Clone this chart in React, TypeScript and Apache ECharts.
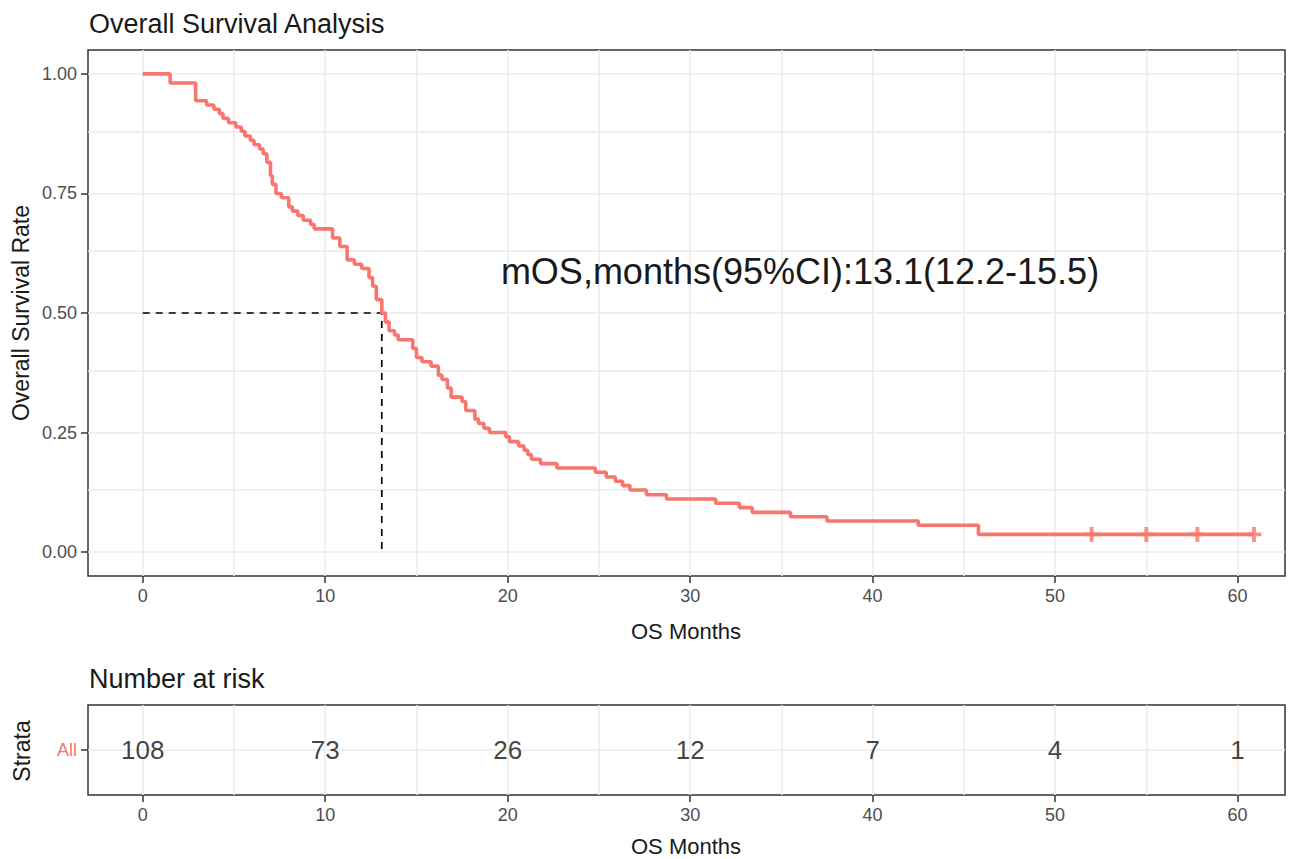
import React, { useEffect, useRef } from "react";
import * as echarts from "echarts";

// Kaplan-Meier step points (time in months, survival after the drop)
const times = [0, 1.5, 2.9, 3.5, 3.9, 4.2, 4.4, 4.7, 5.1, 5.4, 5.6, 5.9, 6.1, 6.4, 6.6, 6.8, 7.0, 7.1, 7.3, 7.6, 8.0, 8.2, 8.5, 8.8, 9.2, 9.4, 10.4, 10.8, 11.2, 11.6, 12.0, 12.4, 12.6, 12.8, 13.1, 13.3, 13.5, 13.8, 14.0, 14.8, 15.0, 15.3, 15.8, 16.2, 16.4, 16.7, 16.9, 17.5, 17.7, 18.2, 18.4, 18.7, 19.0, 19.9, 20.1, 20.6, 20.9, 21.1, 21.3, 21.8, 22.7, 24.8, 25.4, 25.9, 26.3, 26.7, 27.6, 28.7, 31.4, 32.7, 33.4, 35.5, 37.5, 42.5, 45.8, 60.9];
const survival = [1.0, 0.981, 0.944, 0.935, 0.926, 0.917, 0.907, 0.898, 0.889, 0.88, 0.87, 0.861, 0.852, 0.843, 0.833, 0.815, 0.787, 0.769, 0.75, 0.741, 0.722, 0.713, 0.704, 0.694, 0.685, 0.676, 0.657, 0.639, 0.611, 0.602, 0.593, 0.574, 0.556, 0.528, 0.5, 0.481, 0.463, 0.454, 0.444, 0.426, 0.407, 0.398, 0.389, 0.37, 0.361, 0.343, 0.324, 0.315, 0.296, 0.278, 0.269, 0.259, 0.25, 0.241, 0.231, 0.222, 0.213, 0.204, 0.194, 0.185, 0.176, 0.167, 0.157, 0.148, 0.139, 0.13, 0.12, 0.111, 0.102, 0.093, 0.083, 0.074, 0.065, 0.056, 0.037, 0.037];

const censorTimes = [52.0, 55.0, 57.8, 60.9];
const censorSurv = [0.037, 0.037, 0.037, 0.037];

const medianTime = 13.1;
const medianSurv = 0.5;

const riskTimes = [0, 10, 20, 30, 40, 50, 60];
const riskCounts = [108, 73, 26, 12, 7, 4, 1];
const strata = ["All"];

const xTicks = [0, 10, 20, 30, 40, 50, 60];
const xMinor = [5, 15, 25, 35, 45, 55];
const yTicks = [0, 0.25, 0.5, 0.75, 1.0];
const yMinor = [0.125, 0.375, 0.625, 0.875];

const annotation = "mOS,months(95%CI):13.1(12.2-15.5)";

const FONT = "'Liberation Sans', Arial, sans-serif";
const RED = "#F8766D";
const GRID_COLOR = "#EBEBEB";

export default function App() {
  const ref = useRef<HTMLDivElement>(null);

  useEffect(() => {
    if (!ref.current) return;
    const chart = echarts.init(ref.current, null, { renderer: "svg" });

    const xAxisBase = (gridIndex: number) => ({
      gridIndex,
      type: "value",
      min: -3,
      max: 62.6,
      axisLine: { show: false, onZero: false },
      splitLine: { show: false },
      axisTick: {
        show: true,
        length: 7,
        customValues: xTicks,
        lineStyle: { color: "#333333", width: 1.5 },
      },
      axisLabel: {
        customValues: xTicks,
        margin: 11,
        fontSize: 18,
        color: "#4D4D4D",
        fontFamily: FONT,
      },
    });

    const gridLineStyle = { color: GRID_COLOR, width: 1.5, type: "solid" };

    const option: any = {
      animation: false,
      backgroundColor: "#ffffff",
      textStyle: { fontFamily: FONT },
      grid: [
        { left: 88, top: 50, width: 1197, height: 526, show: true, borderColor: "#333333", borderWidth: 1.5, backgroundColor: "transparent" },
        { left: 88, top: 705, width: 1197, height: 90, show: true, borderColor: "#333333", borderWidth: 1.5, backgroundColor: "transparent" },
      ],
      xAxis: [xAxisBase(0), xAxisBase(1)],
      yAxis: [
        {
          gridIndex: 0,
          type: "value",
          min: -0.05,
          max: 1.05,
          axisLine: { show: false, onZero: false },
          splitLine: { show: false },
          axisTick: {
            show: true,
            length: 7,
            customValues: yTicks,
            lineStyle: { color: "#333333", width: 1.5 },
          },
          axisLabel: {
            customValues: yTicks,
            margin: 11,
            fontSize: 18,
            color: "#4D4D4D",
            fontFamily: FONT,
            formatter: (v: number) => v.toFixed(2),
          },
        },
        {
          gridIndex: 1,
          type: "category",
          data: strata,
          axisLine: { show: false, onZero: false },
          splitLine: { show: false },
          axisTick: {
            show: true,
            length: 7,
            alignWithLabel: true,
            lineStyle: { color: "#333333", width: 1.5 },
          },
          axisLabel: {
            margin: 11,
            fontSize: 18,
            color: RED,
            fontFamily: FONT,
          },
        },
      ],
      series: [
        {
          type: "line",
          xAxisIndex: 0,
          yAxisIndex: 0,
          data: [],
          z: 1,
          silent: true,
          markLine: {
            z: 1,
            silent: true,
            symbol: ["none", "none"],
            label: { show: false },
            lineStyle: gridLineStyle,
            data: [
              ...xTicks.map((v) => ({ xAxis: v })),
              ...xMinor.map((v) => ({ xAxis: v })),
              ...yTicks.map((v) => ({ yAxis: v })),
              ...yMinor.map((v) => ({ yAxis: v })),
            ],
          },
        },
        {
          type: "line",
          xAxisIndex: 1,
          yAxisIndex: 1,
          data: [],
          z: 1,
          silent: true,
          markLine: {
            z: 1,
            silent: true,
            symbol: ["none", "none"],
            label: { show: false },
            lineStyle: gridLineStyle,
            data: [
              ...xTicks.map((v) => ({ xAxis: v })),
              ...xMinor.map((v) => ({ xAxis: v })),
              ...strata.map((s) => ({ yAxis: s })),
            ],
          },
        },
        {
          type: "line",
          xAxisIndex: 0,
          yAxisIndex: 0,
          z: 3,
          showSymbol: false,
          data: [
            [0, medianSurv],
            [medianTime, medianSurv],
            [medianTime, 0],
          ],
          lineStyle: { color: "#000000", width: 1.7, type: [7, 6] },
        },
        {
          type: "line",
          xAxisIndex: 0,
          yAxisIndex: 0,
          z: 4,
          step: "end",
          showSymbol: false,
          data: times.map((t, i) => [t, survival[i]]),
          lineStyle: { color: RED, width: 3.6 },
        },
        {
          type: "scatter",
          xAxisIndex: 0,
          yAxisIndex: 0,
          z: 5,
          symbol: "path://M3.7,0 H6.3 V3.7 H10 V6.3 H6.3 V10 H3.7 V6.3 H0 V3.7 H3.7 Z",
          symbolSize: 15,
          itemStyle: { color: RED },
          data: censorTimes.map((t, i) => [t, censorSurv[i]]),
        },
        {
          type: "scatter",
          xAxisIndex: 1,
          yAxisIndex: 1,
          z: 5,
          symbolSize: 1,
          itemStyle: { color: "transparent" },
          data: riskTimes.map((t, i) => [t, 0, riskCounts[i]]),
          label: {
            show: true,
            position: "inside",
            formatter: (p: any) => String(p.data[2]),
            fontSize: 26,
            color: "#111111",
            fontFamily: FONT,
          },
        },
      ],
      graphic: {
        z: 100,
        elements: [
          {
            type: "text",
            z: 100,
            left: 89,
            top: 10,
            style: { text: "Overall Survival Analysis", fontSize: 27, fill: "#1a1a1a", fontFamily: FONT },
          },
          {
            type: "text",
            z: 100,
            x: 21,
            y: 313,
            rotation: Math.PI / 2,
            style: { text: "Overall Survival Rate", fontSize: 23, fill: "#1a1a1a", fontFamily: FONT, align: "center", verticalAlign: "middle" },
          },
          {
            type: "text",
            z: 100,
            x: 686,
            y: 631,
            style: { text: "OS Months", fontSize: 22, fill: "#1a1a1a", fontFamily: FONT, align: "center", verticalAlign: "middle" },
          },
          {
            type: "text",
            z: 100,
            x: 800,
            y: 271,
            style: { text: annotation, fontSize: 36, fill: "#1a1a1a", fontFamily: FONT, align: "center", verticalAlign: "middle" },
          },
          {
            type: "text",
            z: 100,
            left: 89,
            top: 665,
            style: { text: "Number at risk", fontSize: 27, fill: "#1a1a1a", fontFamily: FONT },
          },
          {
            type: "text",
            z: 100,
            x: 22,
            y: 751,
            rotation: Math.PI / 2,
            style: { text: "Strata", fontSize: 23, fill: "#1a1a1a", fontFamily: FONT, align: "center", verticalAlign: "middle" },
          },
          {
            type: "text",
            z: 100,
            x: 686,
            y: 846,
            style: { text: "OS Months", fontSize: 22, fill: "#1a1a1a", fontFamily: FONT, align: "center", verticalAlign: "middle" },
          },
        ],
      },
    };

    chart.setOption(option);
    return () => {
      chart.dispose();
    };
  }, []);

  return (
    <div
      ref={ref}
      style={{ position: "fixed", left: 0, top: 0, width: 1295, height: 859, background: "#fff" }}
    />
  );
}
